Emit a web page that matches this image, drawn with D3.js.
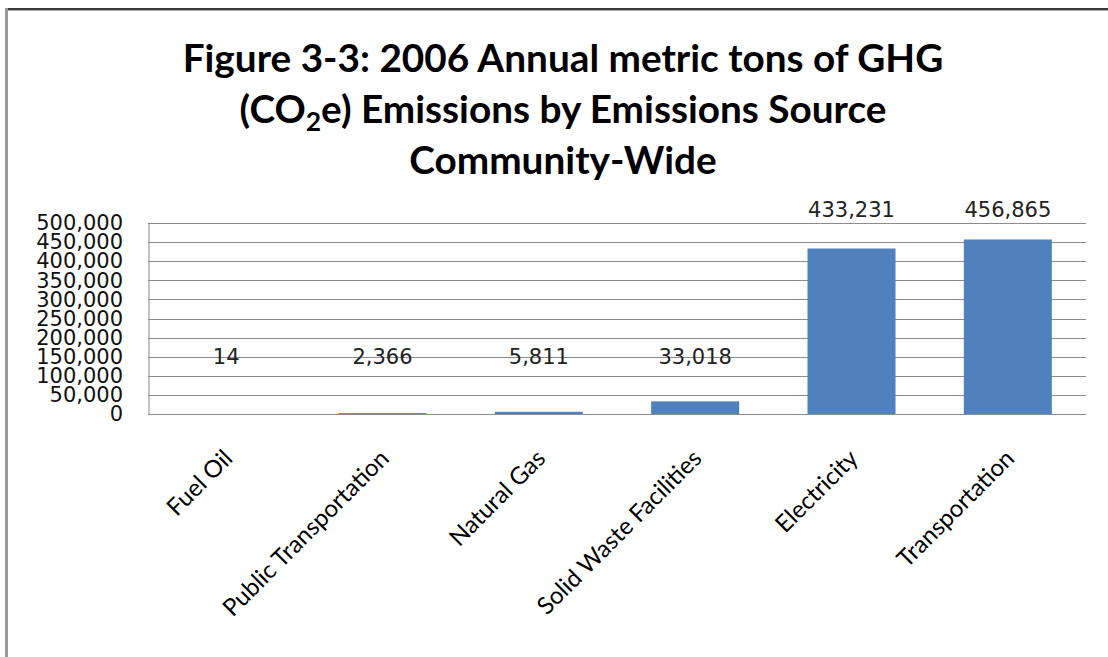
<!DOCTYPE html>
<html>
<head>
<meta charset="utf-8">
<script src="https://cdn.jsdelivr.net/npm/d3@7"></script>
<style>
  body { margin: 0; background: #fff; }
  svg { display: block; }
</style>
</head>
<body>
<div id="chart"></div>
<script>
// chart data
var categories = ["Fuel Oil", "Public Transportation", "Natural Gas", "Solid Waste Facilities", "Electricity", "Transportation"];
var emissions = [14, 2366, 5811, 33018, 433231, 456865];
var yTicks = [0, 50000, 100000, 150000, 200000, 250000, 300000, 350000, 400000, 450000, 500000];

var W = 1108, H = 657;
var margin = { top: 223, right: 22, bottom: 243, left: 148 };
var width = W - margin.left - margin.right;
var height = H - margin.top - margin.bottom;

var svg = d3.select("#chart").append("svg")
    .attr("width", W)
    .attr("height", H);

// outer frame of the screenshot
svg.append("line").attr("x1", 5).attr("x2", W).attr("y1", 9).attr("y2", 9)
    .attr("stroke", "#3a3a3a").attr("stroke-width", 2);
svg.append("line").attr("x1", 5).attr("x2", W).attr("y1", 10.5).attr("y2", 10.5)
    .attr("stroke", "#b0b0b0").attr("stroke-width", 1);
svg.append("line").attr("x1", 6.5).attr("x2", 6.5).attr("y1", 8).attr("y2", H)
    .attr("stroke", "#9a9a9a").attr("stroke-width", 3);

// title
var title = svg.append("g").attr("transform", "translate(563,0)");
var t1 = title.append("text").attr("y", 72).text("Figure 3-3: 2006 Annual metric tons of GHG");
var t2 = title.append("text").attr("y", 123);
t2.append("tspan").text("(CO");
t2.append("tspan").attr("font-size", "26px").attr("dy", 8).text("2");
t2.append("tspan").attr("dy", -8).text("e) Emissions by Emissions Source");
var t3 = title.append("text").attr("y", 174).text("Community-Wide");
title.selectAll("text")
    .attr("text-anchor", "middle")
    .attr("font-family", "Lato, 'Open Sans', sans-serif")
    .attr("font-weight", "bold")
    .attr("font-size", "38px")
    .attr("fill", "#000");
// squeeze title to the narrow width of the original face
var sx = 761 / t1.node().getComputedTextLength();
title.selectAll("text").attr("transform", "scale(" + sx + ",1)");

var g = svg.append("g")
    .attr("transform", "translate(" + margin.left + "," + margin.top + ")");

var x = d3.scaleBand()
    .domain(categories)
    .range([0, width])
    .paddingInner(0.437)
    .paddingOuter(0.2185);

var y = d3.scaleLinear()
    .domain([0, 500000])
    .range([height, 0]);

// gridlines
g.selectAll(".grid")
    .data(yTicks)
    .enter().append("line")
    .attr("class", "grid")
    .attr("x1", 0).attr("x2", width)
    .attr("y1", function (d) { return Math.round(y(d)) + 0.5; })
    .attr("y2", function (d) { return Math.round(y(d)) + 0.5; })
    .attr("stroke", "#8c8c8c")
    .attr("stroke-width", 1);

// y axis labels
var yAxis = g.append("g")
    .call(d3.axisLeft(y).tickValues(yTicks).tickSize(0).tickPadding(25).tickFormat(d3.format(",")));
yAxis.select(".domain")
    .attr("stroke", "#8c8c8c")
    .attr("transform", "translate(0.5,0)");
yAxis.selectAll("text")
    .attr("font-family", "'DejaVu Sans', sans-serif")
    .attr("font-size", "21px")
    .attr("fill", "#111");

// bars
g.selectAll(".bar")
    .data(emissions)
    .enter().append("rect")
    .attr("class", "bar")
    .attr("x", function (d, i) { return x(categories[i]); })
    .attr("width", x.bandwidth())
    .attr("y", function (d) { return y(d); })
    .attr("height", function (d) { return height - y(d); })
    .attr("fill", "#4f81bd");

// data labels (the small ones float mid-plot, the big ones sit above the plot)
g.selectAll(".lbl")
    .data(emissions)
    .enter().append("text")
    .attr("class", "lbl")
    .attr("x", function (d, i) { return x(categories[i]) + x.bandwidth() / 2; })
    .attr("y", function (d) { return d > 250000 ? y(500000) - 14 : y(150000); })
    .attr("dy", "0.36em")
    .attr("text-anchor", "middle")
    .attr("font-family", "'DejaVu Sans', sans-serif")
    .attr("font-size", "21px")
    .attr("fill", "#222")
    .text(d3.format(","));

// x axis line and rotated category labels
g.append("line")
    .attr("x1", 0).attr("x2", width)
    .attr("y1", height + 0.5).attr("y2", height + 0.5)
    .attr("stroke", "#8c8c8c");

g.selectAll(".cat")
    .data(categories)
    .enter().append("text")
    .attr("class", "cat")
    .attr("transform", function (d) {
        var cx = x(d) + x.bandwidth() / 2 + 2;
        return "translate(" + cx + "," + (height + 40) + ") rotate(-45)";
    })
    .attr("text-anchor", "end")
    .attr("dy", "0.35em")
    .attr("font-family", "Lato, 'Open Sans', sans-serif")
    .attr("font-size", "24px")
    .attr("fill", "#000")
    .text(function (d) { return d; });
</script>
</body>
</html>
